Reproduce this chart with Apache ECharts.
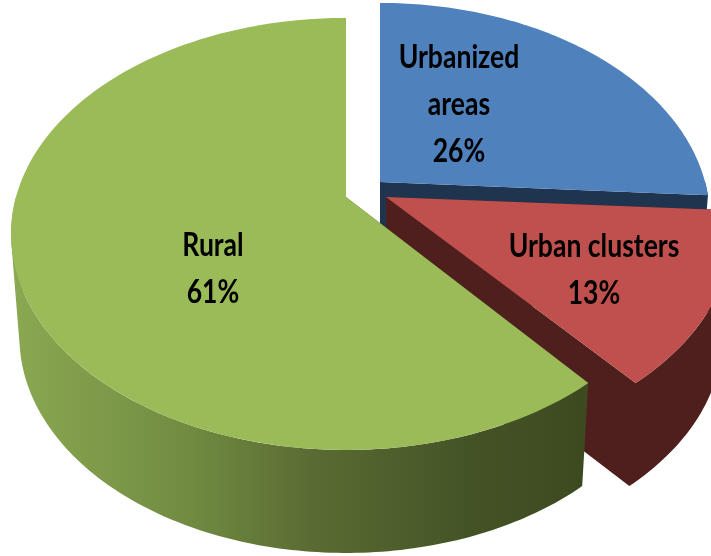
<!DOCTYPE html>
<html>
<head>
<meta charset="utf-8">
<title>Population by area type</title>
<style>
  html, body { margin: 0; padding: 0; background: #fff; }
  #chart { width: 711px; height: 556px; }
</style>
<script src="https://cdn.jsdelivr.net/npm/echarts@6/dist/echarts.min.js"></script>
</head>
<body>
<div id="chart"></div>
<script>
// clockwise from 12 o'clock, drawn back to front
const categories = ['Urbanized\nareas', 'Urban clusters', 'Rural']
const shares = [26, 13, 61]

const topColors = ['#4f81bd', '#c0504d', '#9bbb59']
const wallColors = ['#1f344f', '#4f1f1d', null]
const apexes = [[380, 182], [386, 197], [346, 197]]
const widen = [0.985, 1.03, 1]
const labelAt = [[459, 57], [594, 246], [213, 245]]

// fake 3d: perspective on the disc, lower rim pushed down and a bit narrower
const RX = 330, RY = 209.7, PERSP = 0.171
const DEPTH = 103, SHRINK = 0.975

const total = shares.reduce((a, b) => a + b, 0)

function project (ang, i, level) {
  const apex = apexes[i]
  const x = Math.sin(ang)
  const y = -Math.cos(ang)
  const w = 1 - PERSP * y
  const s = level ? SHRINK : 1
  return [apex[0] + RX * widen[i] * x / w * s, apex[1] + RY * y / w + (level ? DEPTH : 0)]
}

function rim (a0, a1, i, level) {
  const pts = []
  const n = Math.ceil((a1 - a0) * 60)
  for (let k = 0; k <= n; k++) pts.push(project(a0 + (a1 - a0) * k / n, i, level))
  return pts
}

function quadPath (p) {
  let area = 0
  p.forEach((a, k) => {
    const b = p[(k + 1) % p.length]
    area += a[0] * b[1] - b[0] * a[1]
  })
  const q = area < 0 ? p.slice().reverse() : p
  return 'M' + q.map(a => a[0].toFixed(2) + ' ' + a[1].toFixed(2)).join('L') + 'Z'
}

const greenWall = new echarts.graphic.LinearGradient(10, 0, 585, 0, [
  { offset: 0, color: '#8ba852' },
  { offset: 0.3, color: '#728d42' },
  { offset: 0.52, color: '#5a6c33' },
  { offset: 0.8, color: '#445326' },
  { offset: 1, color: '#3d4a20' }
], true)

function renderSlice (params, api) {
  const i = params.dataIndex
  let before = 0
  for (let k = 0; k < i; k++) before += shares[k]
  const a0 = before / total * Math.PI * 2
  const a1 = (before + api.value(0)) / total * Math.PI * 2
  const apex = apexes[i]
  const wall = wallColors[i] || greenWall

  const topRim = rim(a0, a1, i, 0)
  const apexLow = [apex[0], apex[1] + DEPTH]

  // cut faces plus the part of the side wall that faces the viewer, one path so no seams
  let d = quadPath([apex, topRim[0], project(a0, i, 1), apexLow]) +
    quadPath([apex, topRim[topRim.length - 1], project(a1, i, 1), apexLow])
  const w0 = Math.max(a0, Math.PI / 2)
  const w1 = Math.min(a1, Math.PI * 1.5)
  const wallTop = rim(w0, w1, i, 0)
  const wallLow = rim(w0, w1, i, 1)
  for (let k = 0; k < wallTop.length - 1; k++) {
    d += quadPath([wallTop[k], wallTop[k + 1], wallLow[k + 1], wallLow[k]])
  }

  return {
    type: 'group',
    children: [
      { type: 'path', shape: { pathData: d }, style: { fill: wall }, silent: true },
      {
        type: 'polygon',
        shape: { points: [apex].concat(topRim) },
        style: { fill: topColors[i] },
        silent: true
      },
      {
        type: 'text',
        x: labelAt[i][0],
        y: labelAt[i][1] - 23,
        scaleX: 0.83,
        silent: true,
        style: {
          text: categories[i] + '\n' + shares[i] + '%',
          fill: '#000',
          font: 'bold 32px Lato, "Liberation Sans", sans-serif',
          lineHeight: 47,
          align: 'center',
          verticalAlign: 'top'
        }
      }
    ]
  }
}

const chart = echarts.init(document.getElementById('chart'))
chart.setOption({
  animation: false,
  backgroundColor: '#fff',
  series: [{
    type: 'custom',
    coordinateSystem: 'none',
    renderItem: renderSlice,
    data: shares.map(v => [v])
  }]
})
</script>
</body>
</html>
